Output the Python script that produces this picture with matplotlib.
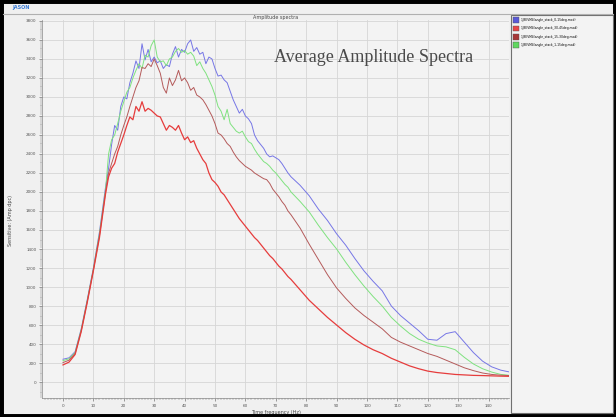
import matplotlib
matplotlib.use("Agg")
import matplotlib.pyplot as plt
from matplotlib.patches import Rectangle, Patch
from matplotlib.ticker import MultipleLocator

# frequency samples (Hz)
freq = [0, 2, 4, 6, 8, 10, 12, 14] + list(range(15, 76)) + list(range(78, 148, 3))

# average amplitude per angle stack
amp_blue = [240, 255, 320, 560, 870, 1200, 1580, 2050,
            2250, 2500, 2700, 2650, 2900, 3000, 2980, 3150, 3250, 3380,
            3300, 3560, 3390, 3500, 3370, 3420, 3360, 3380, 3300, 3340,
            3320, 3450, 3530, 3420, 3500, 3470, 3560, 3600, 3480, 3520,
            3450, 3470, 3350, 3420, 3400, 3300, 3220, 3230, 3180, 3150,
            3060, 2970, 2900, 2830, 2870, 2800, 2770, 2720, 2600, 2540,
            2500, 2460, 2400, 2370, 2380, 2360, 2340, 2300, 2250, 2200, 2160,
            2070, 1960, 1820, 1700, 1560, 1440, 1300, 1170, 1060, 960, 800,
            700, 620, 540, 450, 440, 510, 530, 420, 310, 220, 160, 125, 105]
amp_green = [225, 245, 310, 550, 860, 1190, 1560, 2020,
             2400, 2550, 2600, 2720, 2850, 2950, 3050, 3100, 3200, 3280,
             3350, 3300, 3440, 3420, 3540, 3600, 3420, 3370, 3380, 3330,
             3400, 3420, 3480, 3510, 3470, 3490, 3450, 3470, 3430, 3330,
             3370, 3300, 3250, 3180, 3110, 3020, 2900, 2850, 2760, 2870,
             2720, 2680, 2640, 2620, 2640, 2580, 2530, 2510, 2450, 2400,
             2360, 2320, 2300, 2270, 2230, 2200, 2160, 2120, 2080, 2050, 2000,
             1900, 1790, 1650, 1520, 1400, 1260, 1130, 1010, 900, 800, 680,
             590, 510, 450, 410, 380, 370, 340, 260, 190, 140, 105, 80, 70]
amp_brown = [205, 230, 300, 540, 850, 1180, 1540, 2000,
             2200, 2300, 2400, 2480, 2600, 2700, 2790, 2900, 3000, 3100,
             3170, 3310, 3300, 3350, 3320, 3400, 3330, 3250, 3100, 3040,
             3200, 3120, 3180, 3280, 3170, 3200, 3150, 3070, 3100, 3020,
             3000, 2970, 2920, 2860, 2800, 2720, 2620, 2600, 2560, 2510,
             2480, 2420, 2370, 2330, 2300, 2270, 2250, 2230, 2200, 2180,
             2160, 2140, 2130, 2090, 2030, 1990, 1950, 1900, 1860, 1800, 1760,
             1620, 1450, 1290, 1130, 990, 880, 780, 700, 630, 560, 470,
             420, 380, 340, 300, 270, 230, 190, 150, 120, 95, 80, 72, 68]
amp_red = [180, 210, 290, 530, 840, 1170, 1520, 1980,
           2160, 2250, 2300, 2420, 2510, 2600, 2700, 2790, 2760, 2900,
           2850, 2950, 2850, 2880, 2860, 2830, 2800, 2790, 2720, 2650,
           2700, 2680, 2650, 2700, 2620, 2550, 2580, 2520, 2540, 2460,
           2400, 2340, 2300, 2200, 2130, 2100, 2060, 2000, 1970, 1920,
           1870, 1820, 1770, 1720, 1680, 1640, 1600, 1560, 1520, 1490,
           1450, 1410, 1370, 1330, 1300, 1260, 1220, 1190, 1150, 1110, 1080,
           970, 860, 770, 680, 600, 520, 450, 390, 340, 300, 250,
           210, 170, 140, 115, 100, 90, 80, 75, 70, 68, 65, 62, 60]

legend_labels = ["1_BEVM4(angle_stack_0-15deg.mod)",
                 "1_BEVM4(angle_stack_30-45deg.mod)",
                 "1_BEVM4(angle_stack_15-30deg.mod)",
                 "1_BEVM4(angle_stack_1-15deg.mod)"]
legend_colors = ["#5a5ad8", "#e84848", "#a83838", "#60d860"]

W, H = 616, 417
fig = plt.figure(figsize=(W / 100, H / 100), dpi=100)
fig.patch.set_facecolor("#f0f0f0")

# outer frame, header strip and legend panel
fig.add_artist(Rectangle((0, 0), 1, 1, transform=fig.transFigure,
                         fill=False, ec="black", lw=5))
fig.add_artist(plt.Line2D([3 / W, 1 - 3 / W], [1 - 14 / H, 1 - 14 / H],
                          transform=fig.transFigure, color="#b0b0b0", lw=0.8))
fig.text(12 / W, 1 - 7 / H, "JASON", color="#3a7bd5", fontsize=3.5,
         va="center", ha="left", fontweight="bold")
fig.add_artist(Rectangle((511 / W, 4 / H), 102 / W, 398 / H,
                         transform=fig.transFigure, fc="#f3f3f3",
                         ec="#707070", lw=0.8))

ax = fig.add_axes([42 / W, 19 / H, 467 / W, 378 / H])
ax.set_facecolor("#f3f3f3")

ax.plot(freq, amp_blue, color="#7676e6", lw=0.7)
ax.plot(freq, amp_green, color="#7fe27f", lw=0.7)
ax.plot(freq, amp_brown, color="#b45a5a", lw=0.7)
ax.plot(freq, amp_red, color="#e63c3c", lw=0.9)

ax.set_xlim(-6.9, 146.7)
ax.set_ylim(-168, 3810)
ax.xaxis.set_major_locator(MultipleLocator(10))
ax.xaxis.set_minor_locator(MultipleLocator(1))
ax.yaxis.set_major_locator(MultipleLocator(200))
ax.yaxis.set_minor_locator(MultipleLocator(20))
ax.grid(True, which="major", color="#d6d6d6", lw=0.6)
ax.tick_params(labelsize=3, colors="#555555", length=2, width=0.4, pad=2)
ax.tick_params(which="minor", length=1.2, width=0.3, colors="#777777")
for s in ["top", "right"]:
    ax.spines[s].set_visible(False)
for s in ["left", "bottom"]:
    ax.spines[s].set_color("#888888")
    ax.spines[s].set_linewidth(0.5)

ax.set_title("Amplitude spectra", fontsize=3.5, color="#444444", pad=1)
ax.set_xlabel("Time frequency (Hz)", fontsize=3.5, color="#444444", labelpad=2)
ax.set_ylabel("Sensitive: (Amp dpc)", fontsize=3.5, color="#444444")
ax.yaxis.set_label_coords(-0.063, 0.47)

ax.text(0.496, 0.9, "Average Amplitude Spectra", transform=ax.transAxes,
        family="Liberation Serif", fontsize=13, color="#4a4a4a",
        ha="left", va="center")

handles = [Patch(facecolor=c, edgecolor="#555555", lw=0.3) for c in legend_colors]
fig.legend(handles, legend_labels, loc="upper left",
           bbox_to_anchor=(512 / W, 1 - 16 / H), fontsize=2.2, frameon=False,
           handlelength=1.8, handleheight=2.6, handletextpad=0.6,
           labelspacing=0.8, borderaxespad=0)

fig.savefig("out.png", dpi=100, facecolor=fig.get_facecolor())
